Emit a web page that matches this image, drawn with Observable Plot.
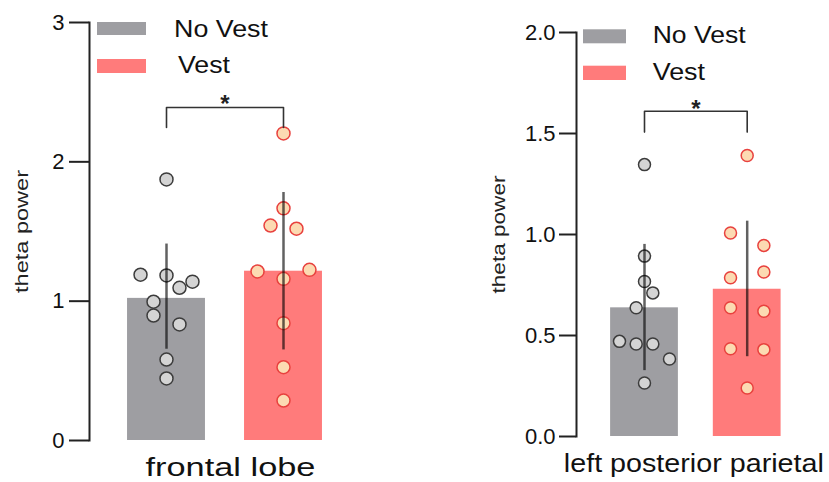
<!DOCTYPE html>
<html><head><meta charset="utf-8">
<script src="https://cdn.jsdelivr.net/npm/d3@7"></script>
<script src="https://cdn.jsdelivr.net/npm/@observablehq/plot@0.6"></script>
<style>
body{margin:0;background:#fff;}
#wrap{position:relative;width:829px;height:482px;overflow:hidden;font-family:"Liberation Sans",Arial,sans-serif;}
#wrap svg{position:absolute;top:0;}
</style></head><body><div id="wrap"></div>
<script>
// ---- data ----
const groups = ["No Vest", "Vest"];
const regions = ["frontal lobe", "left posterior parietal"];
const yLabel = "theta power";
const sigLabel = "*";

const frontalMeans = [1.02, 1.215];
const frontalErrLow = [0.655, 0.65];
const frontalErrHigh = [1.41, 1.78];
const frontalNoVest = [1.874, 1.19, 1.185, 1.14, 1.096, 0.996, 0.897, 0.833, 0.581, 0.445];
const frontalNoVestSlot = [0, -2, 0, 2, 1, -1, -1, 1, 0, 0];
const frontalVest = [2.204, 1.666, 1.543, 1.52, 1.213, 1.225, 1.16, 0.842, 0.526, 0.287];
const frontalVestSlot = [0, 0, -1, 1, -2, 2, 0, 0, 0, 0];
const frontalTicks = [0, 1, 2, 3];
const frontalSig = [2.246, 2.39]; // bracket leg bottom, bracket top

const parietalMeans = [0.637, 0.729];
const parietalErrLow = [0.326, 0.395];
const parietalErrHigh = [0.951, 1.066];
const parietalNoVest = [1.346, 0.893, 0.767, 0.711, 0.637, 0.471, 0.458, 0.458, 0.384, 0.265];
const parietalNoVestSlot = [0, 0, 0, 0.5, -0.5, -1.5, -0.5, 0.5, 1.5, 0];
const parietalVest = [1.391, 1.007, 0.946, 0.814, 0.786, 0.637, 0.620, 0.434, 0.430, 0.240];
const parietalVestSlot = [0, -1, 1, 1, -1, -1, 1, -1, 1, 0];
const parietalTicks = [0, 0.5, 1.0, 1.5, 2.0];
const parietalSig = [1.507, 1.61];

// ---- styles ----
const barColors = ["#9e9ea2", "#ff7b7b"];
const dotFill = ["#d4d4d4", "#fcdab2"];
const dotStroke = ["#3c3c3c", "#e8413e"];
const font = '"Liberation Sans", Arial, sans-serif';

const panels = [
  {left: 0, width: 414, marginLeft: 89, marginTop: 22, marginBottom: 42, xRange: [166, 283],
   yDomain: [0, 3], ticks: frontalTicks, fmt: d3.format("d"), tickSize: 20, tickPadding: 5,
   means: frontalMeans, lo: frontalErrLow, hi: frontalErrHigh,
   pts: [[frontalNoVest, frontalNoVestSlot], [frontalVest, frontalVestSlot]],
   slotUnit: 0.111, r: 6.5, barHalf: 0.333, sig: frontalSig, starDy: -3,
   region: regions[0], xlabDy: 27.5, xlabDx: 5.5, xlabLen: 170, xlabSize: 26,
   ylabDx: -67, ylabLen: 123, ylabSize: 18},
  {left: 414, width: 415, marginLeft: 162, marginTop: 32, marginBottom: 46, xRange: [230, 332.7],
   yDomain: [0, 2], ticks: parietalTicks, fmt: d3.format(".1f"), tickSize: 17, tickPadding: 4,
   means: parietalMeans, lo: parietalErrLow, hi: parietalErrHigh,
   pts: [[parietalNoVest, parietalNoVestSlot], [parietalVest, parietalVestSlot]],
   slotUnit: 0.1623, r: 6, barHalf: 0.33, sig: parietalSig, starDy: -2,
   region: regions[1], xlabDy: 27, xlabDx: -2, xlabLen: 260, xlabSize: 26,
   ylabDx: -78, ylabLen: 118, ylabSize: 19}
];

const wrap = document.getElementById("wrap");

for (const p of panels) {
  const bars = groups.map((g, i) => ({group: g, g: i, mean: p.means[i], lo: p.lo[i], hi: p.hi[i]}));
  const points = [];
  p.pts.forEach(([vals, slots], gi) => vals.forEach((v, k) => points.push({g: gi, v, slot: slots[k]})));
  const bracket = [
    {x: 0, y: p.sig[0]}, {x: 0, y: p.sig[1]}, {x: 1, y: p.sig[1]}, {x: 1, y: p.sig[0]}
  ];

  const chart = Plot.plot({
    width: p.width, height: 482,
    marginLeft: p.marginLeft, marginTop: p.marginTop, marginBottom: p.marginBottom, marginRight: 10,
    style: {fontFamily: font, background: "transparent", overflow: "visible"},
    x: {domain: [0, 1], range: p.xRange, axis: null},
    y: {domain: p.yDomain, axis: null},
    marks: [
      Plot.rect(bars, {x1: d => d.g - p.barHalf, x2: d => d.g + p.barHalf, y1: 0, y2: "mean",
        fill: d => barColors[d.g]}),
      Plot.dot(points, {x: d => d.g + d.slot * p.slotUnit, y: "v", r: p.r,
        fill: d => dotFill[d.g], stroke: d => dotStroke[d.g], strokeWidth: 1.5}),
      Plot.ruleX(bars, {x: "g", y1: "lo", y2: "hi", stroke: "#000", strokeOpacity: 0.62, strokeWidth: 2.5}),
      Plot.line(bracket, {x: "x", y: "y", stroke: "#333", strokeWidth: 1.6}),
      Plot.text([sigLabel], {x: 0.5, y: p.sig[1], text: d => d, fontSize: 24, fontWeight: "bold",
        fill: "#222", dy: p.starDy, lineAnchor: "middle"}),
      Plot.frame({anchor: "left", stroke: "#222", strokeWidth: 2}),
      Plot.axisY({ticks: p.ticks, tickFormat: p.fmt, tickSize: p.tickSize, tickPadding: p.tickPadding,
        fontSize: 22, label: null, stroke: "#222", strokeWidth: 2, color: "#111"}),
      Plot.text([p.region], {x: 0.5, frameAnchor: "bottom", dy: p.xlabDy, dx: p.xlabDx, text: d => d,
        fontSize: p.xlabSize, fill: "#111", lineAnchor: "middle", textAnchor: "middle"}),
      Plot.text([yLabel], {frameAnchor: "left", dx: p.ylabDx, rotate: -90, text: d => d,
        fontSize: p.ylabSize, fill: "#222", lineAnchor: "middle", textAnchor: "middle"})
    ]
  });
  chart.style.left = p.left + "px";
  wrap.appendChild(chart);
  chart.querySelectorAll("text").forEach(t => {
    const s = t.textContent.trim();
    let len = null;
    if (s === p.region) len = p.xlabLen;
    else if (s === yLabel) len = p.ylabLen;
    if (len != null) {
      t.setAttribute("textLength", len);
      t.setAttribute("lengthAdjust", "spacingAndGlyphs");
    }
  });
}

// ---- legends (overlay) ----
const legends = [
  {sx: 97, sw: 49, rows: [{sy: 22, sh: 13, tx: 174, base: 36.7, len: 94}, {sy: 59, sh: 14, tx: 178, base: 72.7, len: 52}]},
  {sx: 583, sw: 43, rows: [{sy: 29.3, sh: 14, tx: 652.7, base: 42.7, len: 93}, {sy: 65.7, sh: 14.3, tx: 652.7, base: 80, len: 52.3}]}
];
const ns = "http://www.w3.org/2000/svg";
const ov = document.createElementNS(ns, "svg");
ov.setAttribute("width", 829); ov.setAttribute("height", 482);
ov.style.left = "0px";
for (const L of legends) {
  L.rows.forEach((r, i) => {
    const rect = document.createElementNS(ns, "rect");
    rect.setAttribute("x", L.sx); rect.setAttribute("y", r.sy);
    rect.setAttribute("width", L.sw); rect.setAttribute("height", r.sh);
    rect.setAttribute("fill", barColors[i]);
    ov.appendChild(rect);
    const t = document.createElementNS(ns, "text");
    t.setAttribute("x", r.tx); t.setAttribute("y", r.base);
    t.setAttribute("font-size", 24.7); t.setAttribute("font-family", font);
    t.setAttribute("fill", "#111");
    t.setAttribute("textLength", r.len); t.setAttribute("lengthAdjust", "spacingAndGlyphs");
    t.textContent = groups[i];
    ov.appendChild(t);
  });
}
wrap.appendChild(ov);
</script></body></html>
